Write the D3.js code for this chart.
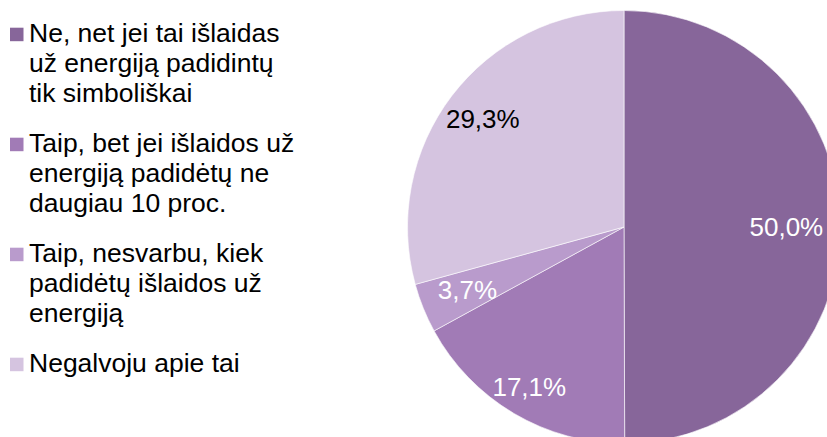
<!DOCTYPE html>
<html>
<head>
<meta charset="utf-8">
<script src="https://cdn.jsdelivr.net/npm/d3@7"></script>
<style>
  body { margin: 0; background: #fff; }
  text { font-family: "Liberation Sans", Arial, sans-serif; }
</style>
</head>
<body>
<div id="chart"></div>
<script>
// data
var categories = [
  ["Ne, net jei tai išlaidas", "už energiją padidintų", "tik simboliškai"],
  ["Taip, bet jei išlaidos už", "energiją padidėtų ne", "daugiau 10 proc."],
  ["Taip, nesvarbu, kiek", "padidėtų išlaidos už", "energiją"],
  ["Negalvoju apie tai"]
];
var values = [50.0, 17.1, 3.7, 29.3];
var valueLabels = ["50,0%", "17,1%", "3,7%", "29,3%"];

var colors = ["#87669a", "#a17bb6", "#b99bcc", "#d5c4e0"];
var labelColors = ["#fff", "#fff", "#fff", "#000"];
// label distance from centre, as a share of the radius
var labelRadii = [0.75, 0.86, 0.78, 0.82];

var svgWidth = 827;
var svgHeight = 437;

var svg = d3.select("#chart")
  .append("svg")
  .attr("width", svgWidth)
  .attr("height", svgHeight);

var cx = 624, cy = 227, radius = 216.5;

var pie = d3.pie()
  .sort(null)
  .value(d => d);

var arcs = pie(values);

var arc = d3.arc()
  .innerRadius(0)
  .outerRadius(radius);

var pieGroup = svg.append("g")
  .attr("transform", `translate(${cx}, ${cy})`);

pieGroup.selectAll("path")
  .data(arcs)
  .enter()
  .append("path")
  .attr("d", arc)
  .attr("fill", (d, i) => colors[i])
  .attr("stroke", "#fff")
  .attr("stroke-width", 0.6);

pieGroup.selectAll("text")
  .data(arcs)
  .enter()
  .append("text")
  .attr("transform", function(d, i) {
    var a = (d.startAngle + d.endAngle) / 2;
    var r = radius * labelRadii[i];
    return `translate(${r * Math.sin(a)}, ${-r * Math.cos(a)})`;
  })
  .attr("text-anchor", "middle")
  .attr("dy", "0.35em")
  .attr("font-size", "26px")
  .attr("fill", (d, i) => labelColors[i])
  .text((d, i) => valueLabels[i]);

// legend
var legend = svg.append("g");
var firstBaseline = 41.7, itemStep = 110, lineHeight = 30;

categories.forEach(function(lines, i) {
  var y0 = firstBaseline + i * itemStep;
  legend.append("rect")
    .attr("x", 10)
    .attr("y", y0 - 14)
    .attr("width", 13.5)
    .attr("height", 13.5)
    .attr("fill", colors[i]);
  var t = legend.append("text")
    .attr("x", 29)
    .attr("y", y0)
    .attr("font-size", "26.5px")
    .attr("fill", "#000");
  lines.forEach(function(line, j) {
    t.append("tspan")
      .attr("x", 29)
      .attr("y", y0 + j * lineHeight)
      .text(line);
  });
});
</script>
</body>
</html>
